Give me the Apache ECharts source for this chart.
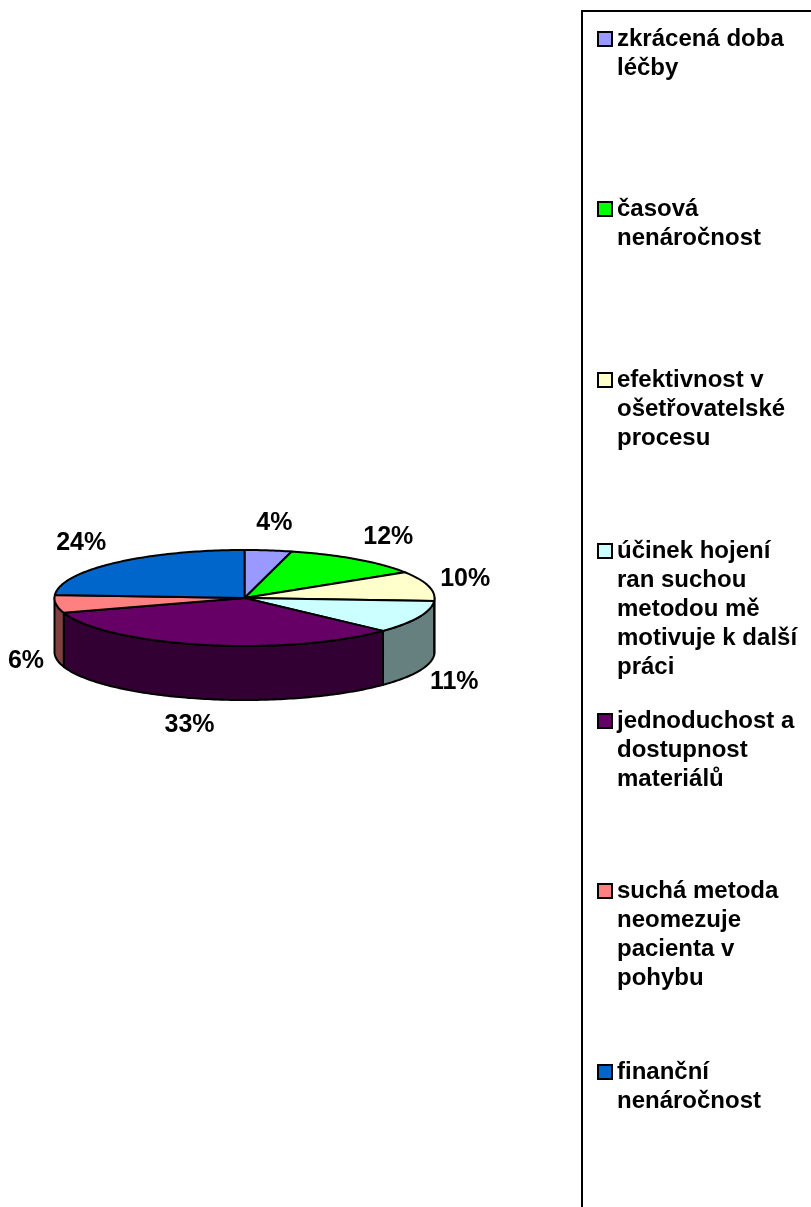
<!DOCTYPE html>
<html>
<head>
<meta charset="utf-8">
<script src="https://cdn.jsdelivr.net/npm/echarts@6/dist/echarts.min.js"></script>
<style>
  html, body { margin: 0; padding: 0; background: #ffffff; }
  #chart { width: 811px; height: 1207px; }
</style>
</head>
<body>
<div id="chart"></div>
<script>
// Slice names (line breaks as shown in the legend) and their shares in percent
const categories = [
  'zkrácená doba\nléčby',
  'časová\nnenáročnost',
  'efektivnost v\nošetřovatelské\nprocesu',
  'účinek hojení\nran suchou\nmetodou mě\nmotivuje k další\npráci',
  'jednoduchost a\ndostupnost\nmateriálů',
  'suchá metoda\nneomezuje\npacienta v\npohybu',
  'finanční\nnenáročnost'
];
const values = [4, 12, 10, 11, 33, 6, 24];

// Palette for the slice tops; the walls use a darker shade of the same colour
const palette = ['#9999FF', '#00FF00', '#FFFFCC', '#CCFFFF', '#660066', '#FF8080', '#0066CC'];

// Tilted-pie geometry (pixels)
const PIE = { cx: 244.5, cy: 598, rx: 190, ry: 48, depth: 54 };
const FONT = "'Liberation Sans', Arial, Helvetica, sans-serif";
const LABEL_SIZE = 25;
const LEGEND_SIZE = 24;
const LEGEND_LINE = 29;
const LEGEND_ROW_Y = [39, 209, 380, 551, 721, 891, 1072];
const OUTLINE = 2;

const total = values.reduce((a, b) => a + b, 0);
const starts = values.map((v, i) => values.slice(0, i).reduce((a, b) => a + b, 0));

const measureCtx = document.createElement('canvas').getContext('2d');
function textWidth(str, size) {
  measureCtx.font = 'bold ' + size + 'px ' + FONT;
  return measureCtx.measureText(str).width;
}

function shade(hex) {
  const n = parseInt(hex.slice(1), 16);
  const r = Math.round(((n >> 16) & 255) * 0.5);
  const g = Math.round(((n >> 8) & 255) * 0.5);
  const b = Math.round((n & 255) * 0.5);
  return 'rgb(' + r + ',' + g + ',' + b + ')';
}

// Point on the tilted circle: angle in degrees, clockwise from 12 o'clock
function ellipsePt(deg, dy) {
  const t = deg * Math.PI / 180;
  return [PIE.cx + PIE.rx * Math.sin(t), PIE.cy + dy - PIE.ry * Math.cos(t)];
}
function arc(a0, a1, dy) {
  const pts = [];
  const n = Math.max(2, Math.ceil(a1 - a0));
  for (let k = 0; k <= n; k++) pts.push(ellipsePt(a0 + (a1 - a0) * k / n, dy));
  return pts;
}

function renderSlice(params, api) {
  const v = api.value(0);
  const s = api.value(1);
  const a0 = s / total * 360;
  const a1 = (s + v) / total * 360;
  const color = api.visual('color');
  const children = [];

  // outer wall: only the front half of the rim is visible
  const f0 = Math.max(a0, 90), f1 = Math.min(a1, 270);
  if (f1 > f0) {
    children.push({
      type: 'polygon',
      shape: { points: arc(f0, f1, 0).concat(arc(f0, f1, PIE.depth).reverse()) },
      style: { fill: shade(color), stroke: '#000', lineWidth: OUTLINE, lineJoin: 'round' }
    });
  }

  // top face
  children.push({
    type: 'polygon',
    shape: { points: [[PIE.cx, PIE.cy]].concat(arc(a0, a1, 0)) },
    style: { fill: color, stroke: '#000', lineWidth: OUTLINE, lineJoin: 'round' }
  });

  // percentage label outside the rim
  const mid = (a0 + a1) / 2;
  const t = mid * Math.PI / 180;
  const sn = Math.sin(t), cs = Math.cos(t);
  const p = ellipsePt(mid, cs < 0 ? PIE.depth : 0);
  const text = v + '%';
  const w = textWidth(text, LABEL_SIZE);
  const sx = Math.max(-1, Math.min(1, 2 * sn));
  children.push({
    type: 'text',
    x: p[0] + 12 * sn + sx * w / 2,
    y: p[1] - 27 * cs,
    z2: 20,
    style: {
      text: text,
      fontSize: LABEL_SIZE,
      fontWeight: 'bold',
      fontFamily: FONT,
      fill: '#000',
      align: 'center',
      verticalAlign: 'middle'
    }
  });

  return { type: 'group', children: children };
}

const series = categories.map((name, i) => ({
  type: 'custom',
  name: name,
  coordinateSystem: 'none',
  itemStyle: { color: palette[i] },
  data: [[values[i], starts[i]]],
  renderItem: renderSlice
}));

// One legend block per entry; blank lines above the text keep the marker
// level with the first line of its (vertically centred) label
const legends = categories.map((name, i) => {
  const lines = name.split('\n').length;
  return {
    data: [name],
    orient: 'vertical',
    left: 597,
    top: LEGEND_ROW_Y[i] - (2 * lines - 1) * LEGEND_LINE / 2,
    padding: 0,
    itemWidth: 14,
    itemHeight: 14,
    icon: 'rect',
    selectedMode: false,
    formatter: (n) => '\n'.repeat(lines - 1) + n,
    itemStyle: { borderColor: '#000', borderWidth: 2 },
    textStyle: {
      fontSize: LEGEND_SIZE,
      fontWeight: 'bold',
      fontFamily: FONT,
      color: '#000',
      lineHeight: LEGEND_LINE
    }
  };
});

const chart = echarts.init(document.getElementById('chart'), null, { renderer: 'canvas' });
chart.setOption({
  animation: false,
  backgroundColor: '#ffffff',
  legend: legends,
  graphic: [{
    type: 'rect',
    shape: { x: 582, y: 11, width: 320, height: 1300 },
    style: { fill: 'transparent', stroke: '#000', lineWidth: 2 },
    z: -1
  }],
  series: series
});
</script>
</body>
</html>
